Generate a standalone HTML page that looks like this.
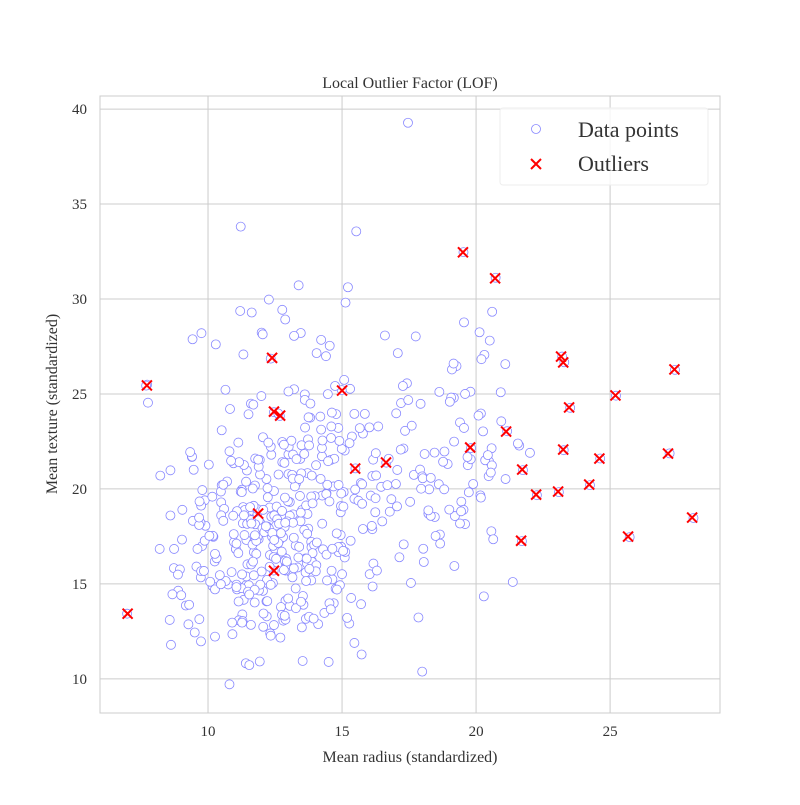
<!DOCTYPE html>
<html><head><meta charset="utf-8"><style>
body{margin:0;background:#fff}
svg text{font-family:"Liberation Serif","DejaVu Serif",serif;fill:#333}
</style></head><body>
<svg id="chart" width="800" height="800" xmlns="http://www.w3.org/2000/svg">
<rect width="800" height="800" fill="#fff"/>
<g id="grid"></g>
<rect x="100" y="96" width="620" height="617" fill="none" stroke="#cccccc" stroke-width="1"/>
<g id="pts"></g>
<g id="outs"></g>
<g id="ticks"></g>
<text x="410" y="88" text-anchor="middle" font-size="16">Local Outlier Factor (LOF)</text>
<text x="410" y="762" text-anchor="middle" font-size="16">Mean radius (standardized)</text>
<text transform="translate(57,404) rotate(-90)" text-anchor="middle" font-size="16">Mean texture (standardized)</text>
<g>
<rect x="500" y="108" width="208" height="77" rx="3" fill="#fff" fill-opacity="0.8" stroke="#eeeeee"/>
<circle cx="536" cy="129" r="4.5" fill="#fff" stroke="#8888ff" stroke-width="0.8"/>
<text x="578" y="137" font-size="22">Data points</text>
<path d="M531,159 l10,10 M541,159 l-10,10" stroke="#ff0000" stroke-width="2"/>
<text x="578" y="171" font-size="22">Outliers</text>
</g>
</svg>
<script>
const xTicks=[10,15,20,25];
const yTicks=[10,15,20,25,30,35,40];
const dataX=[17.99,20.57,19.69,11.42,20.29,12.45,18.25,13.71,13,12.46,16.02,15.78,19.17,15.85,13.73,14.54,14.68,16.13,19.81,13.54,13.08,9.504,15.34,21.16,16.65,17.14,14.58,18.61,15.3,17.57,18.63,11.84,17.02,19.27,16.13,16.74,14.25,13.03,14.99,13.48,13.44,10.95,19.07,13.28,13.17,18.65,8.196,13.17,12.05,13.49,11.76,13.64,11.94,18.22,15.1,11.52,19.21,14.71,13.05,8.618,10.17,8.598,14.25,9.173,12.68,14.78,9.465,11.31,9.029,12.78,18.94,8.888,17.2,13.8,12.31,16.07,13.53,18.05,20.18,12.86,11.45,13.34,25.22,19.1,12,18.46,14.48,19.02,12.36,14.64,14.62,15.37,13.27,13.45,15.06,20.26,12.18,9.787,11.6,14.42,13.61,6.981,12.18,9.876,10.49,13.11,11.64,12.36,22.27,11.34,9.777,12.63,14.26,10.51,8.726,11.93,8.95,14.87,15.78,17.95,11.41,18.66,24.25,14.5,13.37,13.85,13.61,19,15.1,19.79,12.19,15.46,16.16,15.71,18.45,12.77,11.71,11.43,14.95,11.28,9.738,16.11,11.43,12.9,10.75,11.9,11.8,14.95,14.44,13.74,13,8.219,9.731,11.15,13.15,12.25,17.68,16.84,12.06,10.9,11.75,19.19,19.59,12.34,23.27,14.97,10.8,16.78,17.47,14.97,12.32,13.43,15.46,11.08,10.66,8.671,9.904,16.46,13.01,12.81,27.22,21.09,15.7,11.41,15.28,10.08,18.31,11.71,11.81,12.3,14.22,12.77,9.72,12.34,14.86,12.91,13.77,18.08,19.18,14.45,12.23,17.54,23.29,13.81,12.47,15.12,9.876,17.01,13.11,15.27,20.58,11.84,28.11,17.42,14.19,13.86,11.89,10.2,19.8,19.53,13.65,13.56,10.18,15.75,13.27,14.34,10.44,15,12.62,12.83,17.05,11.32,11.22,20.51,9.567,14.03,23.21,20.48,14.22,17.46,13.64,12.42,11.3,13.75,19.4,10.48,13.2,12.89,10.65,11.52,20.94,11.5,19.73,17.3,19.45,13.96,19.55,15.32,15.66,15.53,20.31,17.35,17.29,15.61,17.19,20.73,10.6,13.59,12.87,10.71,14.29,11.29,21.75,9.742,17.93,11.89,11.33,18.81,13.59,13.85,19.16,11.74,19.4,16.24,12.89,12.58,11.94,12.89,11.26,11.37,14.41,14.96,12.95,11.85,12.72,13.77,10.91,11.76,14.26,10.51,19.53,12.46,20.09,10.49,11.46,11.6,13.2,9,13.5,13.05,11.7,14.61,12.76,11.54,8.597,12.49,12.18,18.22,9.042,12.43,10.25,20.16,12.86,20.34,12.2,12.67,14.11,12.03,16.27,16.26,16.03,12.98,11.22,11.25,12.3,17.06,12.99,18.77,10.05,23.51,14.42,9.606,11.06,19.68,11.71,10.26,12.06,14.76,11.47,11.95,11.66,15.75,25.73,15.08,11.14,12.56,13.05,13.87,8.878,9.436,12.54,13.3,12.76,16.5,13.4,20.44,20.2,12.21,21.71,22.01,16.35,15.19,21.37,20.64,13.69,16.17,10.57,13.46,13.66,11.08,11.27,11.04,12.05,12.39,13.28,14.6,12.21,13.88,11.27,19.55,10.26,8.734,15.49,21.61,12.1,14.06,13.51,12.8,11.06,11.8,17.91,11.93,12.96,12.94,12.34,10.94,16.14,12.85,17.99,12.27,11.36,11.04,9.397,14.99,15.13,11.89,9.405,15.5,12.7,11.16,11.57,14.69,11.61,13.66,9.742,10.03,10.48,10.8,11.13,12.72,14.9,12.4,20.18,18.82,14.86,13.98,12.87,14.04,13.85,14.02,10.97,17.27,13.78,10.57,18.03,11.99,17.75,14.8,14.53,21.1,11.87,19.59,12,14.53,12.62,13.38,11.63,13.21,13,9.755,17.08,27.42,14.4,11.6,13.17,13.24,13.14,9.668,17.6,11.62,9.667,12.04,14.92,12.27,10.88,12.83,14.2,13.9,11.49,16.25,12.16,13.9,13.47,13.7,15.73,12.45,14.64,19.44,11.68,16.69,12.25,17.85,18.01,12.46,13.16,14.87,12.65,12.47,18.49,20.59,15.04,13.82,12.54,23.09,9.268,9.676,12.22,11.06,16.3,15.46,11.74,14.81,13.4,14.58,15.05,11.34,18.31,19.89,12.88,12.75,9.295,24.63,11.26,13.71,9.847,8.571,13.46,12.34,13.94,12.07,11.75,11.67,13.68,20.47,10.96,20.55,14.27,11.69,7.729,7.691,11.54,14.47,14.74,13.21,13.87,13.62,10.32,10.26,9.683,10.82,10.86,11.13,12.77,9.333,12.88,10.29,10.16,9.423,14.59,11.51,14.05,11.2,15.22,20.92,21.56,20.13,16.6,20.6,7.76];
const dataY=[10.38,17.77,21.25,20.38,14.34,15.7,19.98,20.83,21.82,24.04,23.24,17.89,24.8,23.95,22.61,27.54,20.13,20.68,22.15,14.36,15.71,12.44,14.26,23.04,21.38,16.4,21.53,20.25,25.27,15.05,25.11,18.7,23.98,26.47,17.88,21.59,21.72,18.42,25.2,20.82,21.58,21.35,24.81,20.28,21.81,17.6,16.84,18.66,14.63,22.3,21.6,16.34,18.24,18.7,22.02,18.75,18.57,21.59,19.31,11.79,14.88,20.98,22.15,13.86,23.84,23.94,21.01,19.04,17.33,16.49,21.31,14.64,24.52,15.79,16.52,19.65,10.94,16.15,23.97,18,20.97,15.86,24.91,26.29,15.65,18.52,21.46,24.59,21.8,15.24,24.02,22.76,14.76,18.3,19.83,23.03,17.84,19.94,12.84,19.77,24.98,13.43,20.52,19.4,19.29,15.56,18.33,18.54,19.67,21.26,16.99,20.76,19.65,20.19,15.83,21.53,15.76,16.67,22.91,20.01,10.82,17.12,20.2,10.89,16.39,17.21,24.69,18.91,16.39,25.12,13.29,19.48,21.54,13.93,21.91,22.47,16.67,15.39,17.57,13.39,11.97,18.05,17.31,15.92,14.97,14.65,16.58,18.77,15.18,17.91,20.78,20.7,15.34,13.08,15.34,17.94,20.74,19.46,12.74,12.96,20.18,15.94,18.15,22.22,22.04,19.76,9.71,18.8,24.68,16.95,12.39,19.63,11.89,14.71,15.15,14.45,18.06,20.11,22.22,13.06,21.87,26.57,20.31,14.92,22.41,15.11,18.58,17.19,17.39,15.9,23.12,21.41,18.22,26.86,23.21,16.33,22.29,21.84,22.49,20.22,19.56,19.32,26.67,23.75,18.6,16.68,17.27,20.26,22.54,12.91,22.14,18.94,18.47,25.56,23.81,16.93,18.35,17.48,21.56,32.47,13.16,13.9,17.53,20.25,17.02,13.47,15.46,15.51,23.97,22.33,19.08,27.08,33.81,27.81,15.91,21.25,26.97,21.46,27.85,39.28,15.6,15.04,18.19,23.77,23.5,19.86,17.43,14.11,25.22,14.93,23.56,18.45,19.82,17.08,19.33,17.05,28.77,17.27,23.2,33.56,27.06,23.06,22.13,19.38,22.07,31.12,18.95,21.84,16.21,20.39,16.82,13.04,20.99,15.67,24.48,17.36,14.16,19.98,17.84,15.18,26.6,14.02,18.18,18.77,15.7,18.4,20.76,13.12,19.96,18.89,19.73,19.1,16.02,17.46,13.78,13.27,12.35,18.14,18.17,23.09,18.9,19.89,23.86,18.61,18.16,24.49,15.82,14.4,12.71,13.84,19.11,15.69,13.37,10.72,18.6,16.85,14.08,18.87,18.9,17,16.18,19.66,13.32,21.51,15.21,17.3,12.88,17.93,20.71,21.88,15.51,19.35,19.86,14.78,19.02,21,14.23,21.43,17.53,24.27,16.54,16.84,14.96,21.68,15.45,14.71,18.9,14.74,16.03,14.96,17.07,19.22,17.46,25.74,14.07,19.07,18.59,16.21,15.49,18.32,18.07,21.57,18.84,18.29,16.95,21.78,26.83,18.02,17.25,21.9,23.29,13.21,15.1,17.35,16.07,16.07,20.22,28.21,15.15,18.83,12.96,16.83,22.72,17.48,13.72,23.29,14.09,16.16,15.5,23.21,12.22,16.84,19.97,22.28,17.72,17.18,18.89,17.46,14.83,17.26,21.02,10.91,18.29,16.17,14.95,18.59,14.86,21.37,20.66,17.92,17.57,16.83,21.68,22.11,29.81,21.17,21.7,21.08,12.17,21.41,19.04,13.98,16.02,19.13,19.12,21.28,14.98,21.98,16.62,17.67,22.53,17.68,19.54,21.97,16.94,19.62,19.54,15.98,19.6,15.66,17.2,25.42,15.79,18.32,16.85,24.89,28.03,17.66,19.34,20.52,21.54,25,28.23,13.98,17.15,30.72,29.29,25.25,25.13,28.2,27.15,26.27,26.99,18.36,18.22,20.13,20.74,18.1,23.33,18.18,18.49,28.14,14.93,29.97,15.62,15.73,20.53,16.62,14.59,19.51,18.03,19.24,14.06,17.64,11.28,16.41,16.85,18.82,16.17,20.2,22.44,13.23,20.56,12.83,20.54,20.21,18.17,17.31,17.52,21.24,16.74,24.49,16.32,19.83,12.87,13.14,20.04,17.12,15.7,23.95,14.69,14.7,20.52,13.66,19.07,18.61,20.58,20.26,18.22,16.7,13.9,21.6,19.83,18.68,15.68,13.1,18.75,12.27,13.17,13.44,17.56,20.02,16.33,20.67,17.62,20.86,22.55,24.44,25.49,25.44,14.44,24.99,25.42,28.06,20.7,23.23,16.35,16.58,19.34,24.21,21.48,22.44,29.43,21.94,28.92,27.61,19.59,27.88,22.68,23.93,27.15,29.37,30.62,25.09,22.39,28.25,28.08,29.33,24.54];
const outX=[7.72,7.0,12.39,12.46,12.69,11.87,12.46,15.0,15.49,16.64,19.51,20.71,19.78,21.12,21.72,22.24,21.68,23.06,23.17,23.25,23.47,23.25,24.22,24.6,25.2,25.67,27.16,27.4,28.06];
const outY=[25.45,13.43,26.9,24.07,23.86,18.7,15.69,25.18,21.07,21.39,32.46,31.09,22.18,23.02,21.02,19.7,17.27,19.86,26.97,26.66,24.29,22.07,20.23,21.6,24.92,17.49,21.86,26.29,18.49];
const NS='http://www.w3.org/2000/svg';
const X0=100,X1=720,Y0=96,Y1=713;
const xMin=5.97,xMax=29.1,yMin=8.2,yMax=40.69;
function sx(v){return X0+(v-xMin)/(xMax-xMin)*(X1-X0);}
function sy(v){return Y1-(v-yMin)/(yMax-yMin)*(Y1-Y0);}
function mk(tag,attrs,parent){const e=document.createElementNS(NS,tag);for(const k in attrs)e.setAttribute(k,attrs[k]);parent.appendChild(e);return e;}
const grid=document.getElementById('grid'),ticks=document.getElementById('ticks');
xTicks.forEach(t=>{
  const l=mk('line',{x1:sx(t),x2:sx(t),y1:Y0,y2:Y1,stroke:'#cccccc','stroke-width':1},grid);
  
  
  const tx=mk('text',{x:sx(t),y:Y1+23,'text-anchor':'middle','font-size':15},ticks);
  tx.textContent=t;
  
  
});
yTicks.forEach(t=>{
  const l=mk('line',{x1:X0,x2:X1,y1:sy(t),y2:sy(t),stroke:'#cccccc','stroke-width':1},grid);
  
  
  const tx=mk('text',{x:X0-13,y:sy(t)+5,'text-anchor':'end','font-size':15},ticks);
  tx.textContent=t;
  
  
});
const pts=document.getElementById('pts');
dataX.forEach((v,i)=>{
  const c=mk('circle',{cx:sx(v),cy:sy(dataY[i]),r:4.5,fill:'#fff',stroke:'#8888ff','stroke-width':0.8},pts);
  
  
});
const outs=document.getElementById('outs');
outX.forEach((v,i)=>{
  const x=sx(v),y=sy(outY[i]),s=5;
  const p=mk('path',{d:`M${x-s},${y-s}L${x+s},${y+s}M${x+s},${y-s}L${x-s},${y+s}`,stroke:'#ff0000','stroke-width':2},outs);
  
  
});
</script>
</body></html>
